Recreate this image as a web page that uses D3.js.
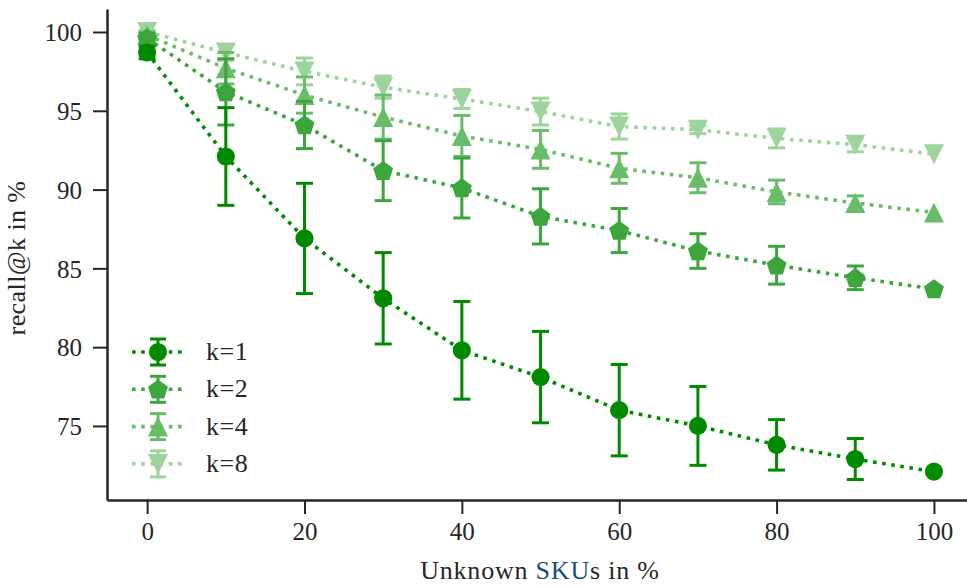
<!DOCTYPE html>
<html>
<head>
<meta charset="utf-8">
<script src="https://d3js.org/d3.v7.min.js"></script>
<style>
  body { margin: 0; background: #fff; }
</style>
</head>
<body>
<svg id="chart" width="967" height="587"></svg>
<script>
var unknownSkus = [0, 10, 20, 30, 40, 50, 60, 70, 80, 90, 100];

var recallK1 = [98.7, 92.1, 86.9, 83.1, 79.8, 78.1, 76.0, 75.0, 73.8, 72.9, 72.1];
var errK1    = [0.4, 3.1, 3.5, 2.9, 3.1, 2.9, 2.9, 2.5, 1.6, 1.3, 0];
var recallK2 = [99.6, 96.2, 94.1, 91.2, 90.1, 88.3, 87.4, 86.1, 85.2, 84.4, 83.7];
var errK2    = [0.3, 2.1, 1.5, 1.9, 1.9, 1.75, 1.4, 1.1, 1.2, 0.75, 0];
var recallK4 = [99.8, 97.7, 96.0, 94.6, 93.4, 92.55, 91.35, 90.75, 89.85, 89.15, 88.55];
var errK4    = [0.2, 1.0, 1.15, 1.4, 1.3, 1.2, 0.95, 0.95, 0.75, 0.45, 0];
var recallK8 = [100.0, 98.7, 97.5, 96.5, 95.75, 94.95, 94.0, 93.8, 93.25, 92.85, 92.25];
var errK8    = [0.1, 0.5, 0.85, 0.7, 0.6, 0.85, 0.8, 0.25, 0.6, 0.45, 0];

var seriesNames = ['k=1', 'k=2', 'k=4', 'k=8'];
var xTicks = [0, 20, 40, 60, 80, 100];
var yTicks = [75, 80, 85, 90, 95, 100];

var colors = ['#008a00', '#3ca53c', '#69bd69', '#9dd49d'];
var shapes = ['circle', 'pentagon', 'up', 'down'];
var FONT = '"Liberation Serif", "Times New Roman", serif';

var series = [recallK1, recallK2, recallK4, recallK8].map(function(vals, i) {
  var errs = [errK1, errK2, errK4, errK8][i];
  return {
    name: seriesNames[i], color: colors[i], shape: shapes[i],
    points: vals.map(function(v, j) { return { x: unknownSkus[j], y: v, err: errs[j] }; })
  };
});

var svg = d3.select('#chart');
var x = d3.scaleLinear().domain([-5.1, 104.2]).range([107, 967]);
var y = d3.scaleLinear().domain([70.3, 101.46]).range([500, 9]);

function markerPath(shape) {
  if (shape === 'circle') return d3.symbol(d3.symbolCircle, 260)();
  if (shape === 'up' || shape === 'down') {
    var s = shape === 'up' ? 1 : -1;
    return 'M0,' + (-10 * s) + 'L10,' + (10 * s) + 'L-10,' + (10 * s) + 'Z';
  }
  // pentagon
  var r = 10.5, pts = [];
  for (var k = 0; k < 5; k++) {
    var a = -Math.PI / 2 + k * 2 * Math.PI / 5;
    pts.push([r * Math.cos(a), r * Math.sin(a) + 0.8]);
  }
  return 'M' + pts.join('L') + 'Z';
}

// axes
var xAxis = svg.append('g').attr('transform', 'translate(0,500)')
  .call(d3.axisBottom(x).tickValues(xTicks).tickSize(14).tickPadding(8).tickSizeOuter(0));
var yAxis = svg.append('g').attr('transform', 'translate(107,0)')
  .call(d3.axisLeft(y).tickValues(yTicks).tickSize(14).tickPadding(11).tickSizeOuter(0));

[xAxis, yAxis].forEach(function(ax) {
  ax.select('.domain').attr('stroke', '#262626').attr('stroke-width', 2.5);
  ax.selectAll('.tick line').attr('stroke', '#262626').attr('stroke-width', 2);
  ax.selectAll('.tick text').style('font-family', FONT).style('font-size', '25px').attr('fill', '#262626');
});
yAxis.selectAll('.tick text').attr('dy', '0.35em');

// x label
var xl = svg.append('text').attr('x', 540).attr('y', 579).attr('text-anchor', 'middle')
  .style('font-family', FONT).style('font-size', '26px').attr('fill', '#262626').attr('letter-spacing', 0.8);
xl.append('tspan').text('Unknown ');
xl.append('tspan').text('SKU').attr('fill', '#1b4f78');
xl.append('tspan').text('s in %');

svg.append('text').attr('transform', 'translate(25,258) rotate(-90)')
  .attr('text-anchor', 'middle').style('font-family', FONT).style('font-size', '26px')
  .attr('fill', '#262626').attr('letter-spacing', 0.4).text('recall@k in %');

// series, lightest first
var line = d3.line().x(function(d) { return x(d.x); }).y(function(d) { return y(d.y); });
var plot = svg.append('g');

series.slice().reverse().forEach(function(s) {
  var g = plot.append('g');
  g.append('path').attr('d', line(s.points)).attr('fill', 'none')
    .attr('stroke', s.color).attr('stroke-width', 3.6).attr('stroke-dasharray', '3.6,5.6');

  var eb = g.selectAll('.eb').data(s.points.filter(function(d) { return d.err > 0; }))
    .enter().append('g').attr('stroke', s.color).attr('stroke-width', 3);
  eb.append('line')
    .attr('x1', function(d) { return x(d.x); }).attr('x2', function(d) { return x(d.x); })
    .attr('y1', function(d) { return y(d.y - d.err); }).attr('y2', function(d) { return y(d.y + d.err); });
  [-1, 1].forEach(function(sign) {
    eb.append('line')
      .attr('x1', function(d) { return x(d.x) - 8.5; }).attr('x2', function(d) { return x(d.x) + 8.5; })
      .attr('y1', function(d) { return y(d.y + sign * d.err); }).attr('y2', function(d) { return y(d.y + sign * d.err); });
  });

  g.selectAll('.mk').data(s.points).enter().append('path')
    .attr('d', markerPath(s.shape)).attr('fill', s.color)
    .attr('transform', function(d) { return 'translate(' + x(d.x) + ',' + y(d.y) + ')'; });
});

// legend
var legend = svg.append('g').selectAll('g').data(series).enter().append('g')
  .attr('transform', function(d, i) { return 'translate(0,' + (352 + i * 37.3) + ')'; });
legend.append('line').attr('x1', 132).attr('x2', 185).attr('y1', 0).attr('y2', 0)
  .attr('stroke', function(d) { return d.color; }).attr('stroke-width', 3.6).attr('stroke-dasharray', '3.6,5.6');
legend.append('line').attr('x1', 158).attr('x2', 158).attr('y1', -13).attr('y2', 13)
  .attr('stroke', function(d) { return d.color; }).attr('stroke-width', 3);
[-13, 13].forEach(function(dy) {
  legend.append('line').attr('x1', 150).attr('x2', 166).attr('y1', dy).attr('y2', dy)
    .attr('stroke', function(d) { return d.color; }).attr('stroke-width', 3);
});
legend.append('path').attr('d', function(d) { return markerPath(d.shape); })
  .attr('fill', function(d) { return d.color; }).attr('transform', 'translate(158,0)');
legend.append('text').attr('x', 206).attr('y', 8)
  .style('font-family', FONT).style('font-size', '26px').attr('fill', '#262626').attr('letter-spacing', 0.5)
  .text(function(d) { return d.name; });
</script>
</body>
</html>
